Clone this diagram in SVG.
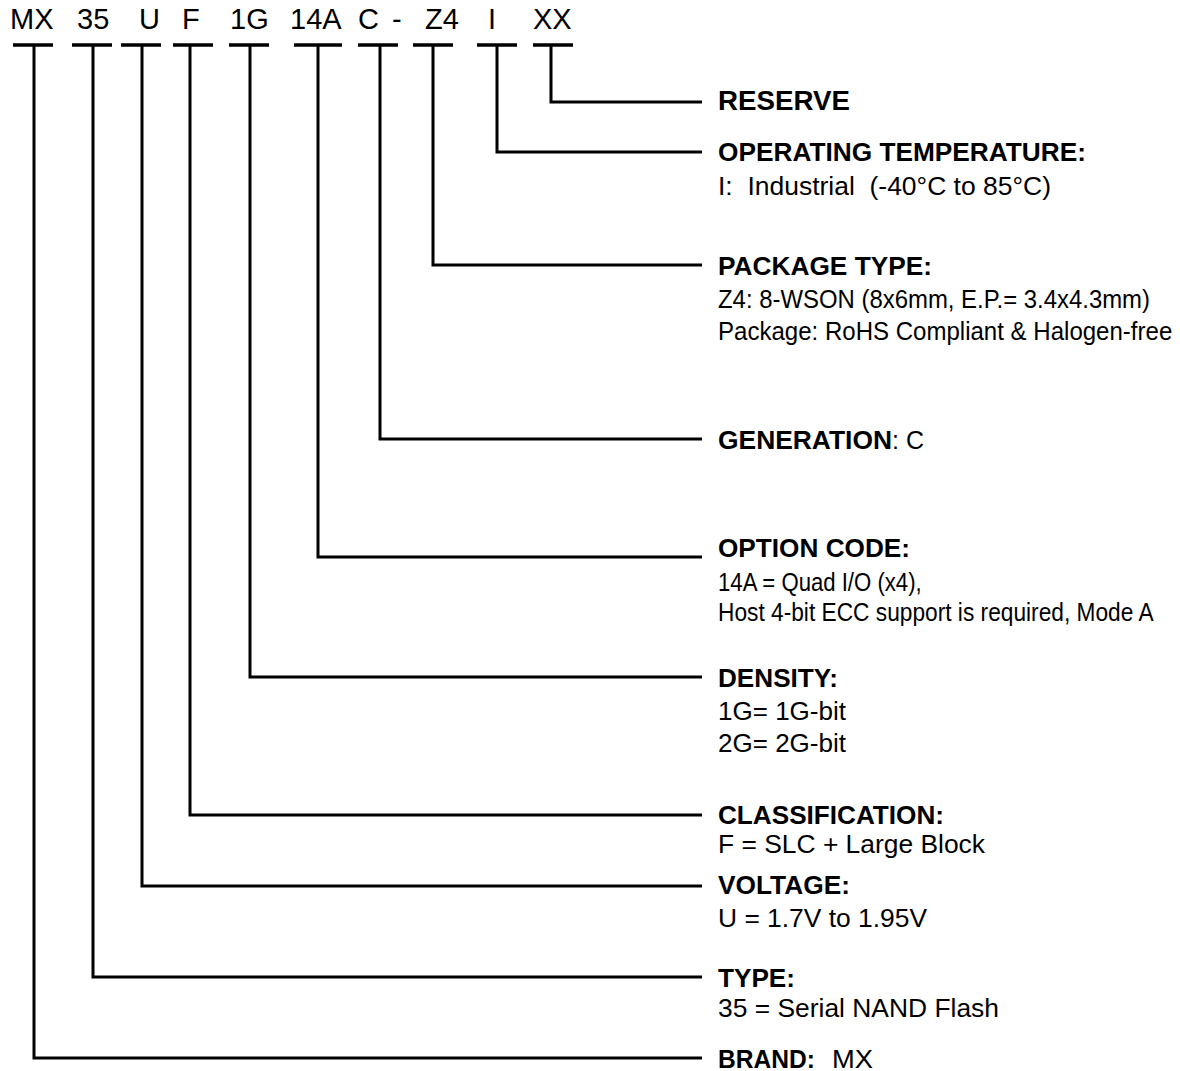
<svg xmlns="http://www.w3.org/2000/svg" width="1180" height="1071" viewBox="0 0 1180 1071">
<style>
text{font-family:"Liberation Sans",Arial,sans-serif;fill:#000;white-space:pre}
.code{font-size:29px}
.h{font-size:25px;font-weight:bold}
.hr{font-size:27px;font-weight:bold}
.b{font-size:25px}
.n{font-size:26px}
.seg{stroke:#000;stroke-width:3.5;fill:none}
.ln{stroke:#000;stroke-width:3;fill:none}
</style>
<rect width="1180" height="1071" fill="#fff"/>
<g id="code">
<text class="code" x="10" y="29">MX</text>
<text class="code" x="77" y="29">35</text>
<text class="code" x="139" y="29">U</text>
<text class="code" x="182" y="29">F</text>
<text class="code" x="230" y="29">1G</text>
<text class="code" x="290" y="29">14A</text>
<text class="code" x="358" y="29">C</text>
<text class="code" x="392" y="29">-</text>
<text class="code" x="425" y="29">Z4</text>
<text class="code" x="488" y="29">I</text>
<text class="code" x="533" y="29">XX</text>
</g>
<g id="connectors">
<path class="seg" d="M13 45H53M72 45H112M121 45H161M173 45H213M229 45H269M294 45H342M358 45H398M413 45H453M477 45H517M533 45H573"/>
<path class="ln" d="M551 45V102H702"/>
<path class="ln" d="M497 45V152H702"/>
<path class="ln" d="M433 45V265H702"/>
<path class="ln" d="M380 45V439H702"/>
<path class="ln" d="M318 45V557H702"/>
<path class="ln" d="M250 45V677H702"/>
<path class="ln" d="M190 45V815H702"/>
<path class="ln" d="M142 45V886H702"/>
<path class="ln" d="M93 45V977H702"/>
<path class="ln" d="M34 45V1058H702"/>
</g>
<g id="reserve"><text class="hr" x="718" y="110" textLength="132" lengthAdjust="spacingAndGlyphs">RESERVE</text></g>
<g id="temperature">
<text class="h" x="718" y="161" textLength="368" lengthAdjust="spacingAndGlyphs">OPERATING TEMPERATURE:</text>
<text class="b" x="718" y="195" textLength="333" lengthAdjust="spacingAndGlyphs">I:  Industrial  (-40°C to 85°C)</text>
</g>
<g id="package">
<text class="h" x="718" y="275" textLength="214" lengthAdjust="spacingAndGlyphs">PACKAGE TYPE:</text>
<text class="n" transform="matrix(0.92 0 0 1 718 308)">Z4: 8-WSON (8x6mm, E.P.= 3.4x4.3mm)</text>
<text class="n" transform="matrix(0.925 0 0 1 718 340)">Package: RoHS Compliant &amp; Halogen-free</text>
</g>
<g id="generation">
<text x="718" y="449"><tspan class="h" textLength="174" lengthAdjust="spacingAndGlyphs">GENERATION</tspan><tspan class="b">: C</tspan></text>
</g>
<g id="option">
<text class="h" x="718" y="557" textLength="192" lengthAdjust="spacingAndGlyphs">OPTION CODE:</text>
<text class="n" transform="matrix(0.852 0 0 1 718 591)">14A = Quad I/O (x4),</text>
<text class="n" transform="matrix(0.874 0 0 1 718 621)">Host 4-bit ECC support is required, Mode A</text>
</g>
<g id="density">
<text class="h" x="718" y="687" textLength="120" lengthAdjust="spacingAndGlyphs">DENSITY:</text>
<text class="b" x="718" y="720" textLength="128" lengthAdjust="spacingAndGlyphs">1G= 1G-bit</text>
<text class="b" x="718" y="752" textLength="128" lengthAdjust="spacingAndGlyphs">2G= 2G-bit</text>
</g>
<g id="classification">
<text class="h" x="718" y="824" textLength="226" lengthAdjust="spacingAndGlyphs">CLASSIFICATION:</text>
<text class="b" x="718" y="853" textLength="267" lengthAdjust="spacingAndGlyphs">F = SLC + Large Block</text>
</g>
<g id="voltage">
<text class="h" x="718" y="894" textLength="132" lengthAdjust="spacingAndGlyphs">VOLTAGE:</text>
<text class="b" x="718" y="927" textLength="209" lengthAdjust="spacingAndGlyphs">U = 1.7V to 1.95V</text>
</g>
<g id="type">
<text class="h" x="718" y="987" textLength="77" lengthAdjust="spacingAndGlyphs">TYPE:</text>
<text class="b" x="718" y="1017" textLength="281" lengthAdjust="spacingAndGlyphs">35 = Serial NAND Flash</text>
</g>
<g id="brand">
<text class="h" x="718" y="1068" textLength="97" lengthAdjust="spacingAndGlyphs">BRAND:</text>
<text class="b" x="832" y="1068" textLength="41" lengthAdjust="spacingAndGlyphs">MX</text>
</g>
</svg>
